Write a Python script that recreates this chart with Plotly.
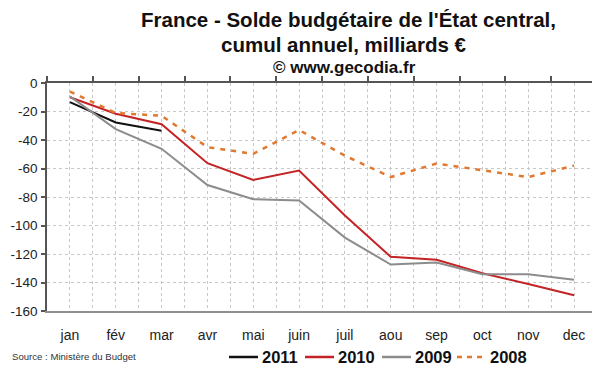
import plotly.graph_objects as go

months = ["jan", "fév", "mar", "avr", "mai", "juin", "juil", "aou", "sep", "oct", "nov", "dec"]
s2011 = [-13.4, -27.7, -33.5]
s2010 = [-10.0, -21.6, -28.9, -56.3, -68.0, -61.5, -93.0, -122.0, -124.0, -133.5, -141.0, -149.0]
s2009 = [-9.4, -32.4, -46.2, -71.6, -81.6, -82.4, -108.5, -127.4, -126.0, -134.2, -134.2, -138.0]
s2008 = [-6.0, -21.0, -23.0, -45.0, -49.7, -33.0, -51.0, -66.0, -56.5, -61.0, -66.0, -58.0]
y_ticks = [0, -20, -40, -60, -80, -100, -120, -140, -160]
y_ticktext = ["0", "-20", "-40", "-60", "-80", "-100", "-120", "-140", "-160"]
series_names = ["2011", "2010", "2009", "2008"]

x = list(range(len(months)))
FONT = "Liberation Sans, Arial, sans-serif"

colors = ["#111111", "#c42326", "#8c8c8c", "#e0782f"]
dashes = ["solid", "solid", "solid", "5px,6px"]
widths = [2, 2, 2, 2.5]
data = [s2011, s2010, s2009, s2008]

# page body has an 8px margin: convert screen pixels to figure pixels
OFF = 8
FW, FH = 600 - OFF, 372 - OFF
L, R, T, B = 47 - OFF, 597 - OFF, 83 - OFF, 311 - OFF
W, H = R - L, B - T


def px(xs):
    return (xs - OFF - L) / W


def py(ys):
    return (B - (ys - OFF)) / H


fig = go.Figure()
for name, vals, c, d, w in zip(series_names, data, colors, dashes, widths):
    fig.add_trace(go.Scatter(x=x[:len(vals)], y=vals, mode="lines", name=name,
                             line=dict(color=c, width=w, dash=d), showlegend=False))
# top axis carrier (invisible)
fig.add_trace(go.Scatter(x=[x[0], x[-1]], y=[None, None], xaxis="x2", showlegend=False,
                         hoverinfo="skip"))

grid = dict(gridcolor="#c8c8c8", griddash="dot", gridwidth=1)

shapes = [dict(type="line", xref="x domain", yref="y domain", x0=1, x1=1, y0=0, y1=1,
               line=dict(color="#909090", width=1.5))]
annotations = [
    dict(text="<b>France - Solde budgétaire de l'État central,</b>", xref="paper", yref="paper",
         x=px(348), y=py(19), xanchor="center", yanchor="middle", showarrow=False,
         font=dict(family=FONT, size=20.5, color="#111111")),
    dict(text="<b>cumul annuel, milliards €</b>", xref="paper", yref="paper",
         x=px(344), y=py(45), xanchor="center", yanchor="middle", showarrow=False,
         font=dict(family=FONT, size=20.5, color="#111111")),
    dict(text="<b>© www.gecodia.fr</b>", xref="paper", yref="paper",
         x=px(344), y=py(67), xanchor="center", yanchor="middle", showarrow=False,
         font=dict(family=FONT, size=17, color="#111111")),
    dict(text="Source : Ministère du Budget", xref="paper", yref="paper",
         x=px(10), y=py(356), xanchor="left", yanchor="middle",
         showarrow=False, font=dict(family=FONT, size=9.6, color="#333333")),
]

# manual legend (screen pixels)
leg_line_x = [229, 305, 382, 457]
leg_y = 357
for lx, name, c, d in zip(leg_line_x, series_names, colors, dashes):
    shapes.append(dict(type="line", xref="paper", yref="paper", x0=px(lx), x1=px(lx + 29),
                       y0=py(leg_y), y1=py(leg_y),
                       line=dict(color=c, width=2.5, dash="5px,5px" if d != "solid" else "solid")))
    annotations.append(dict(text="<b>" + name + "</b>", xref="paper", yref="paper",
                            x=px(lx + 31), y=py(leg_y), xanchor="left", yanchor="middle",
                            showarrow=False, font=dict(family=FONT, size=16.5, color="#111111")))

fig.update_layout(
    width=FW, height=FH,
    margin=dict(l=L, r=FW - R, t=T, b=FH - B, autoexpand=False),
    paper_bgcolor="white", plot_bgcolor="white",
    font=dict(family=FONT, color="#222222"),
    showlegend=False,
    xaxis=dict(range=[-0.5, 11.5], tickvals=x, ticktext=months, showgrid=True, **grid,
               ticks="", zeroline=False, showline=True, linecolor="#909090", linewidth=1.5,
               tickfont=dict(size=14, color="#222222"), automargin=False,
               ticklabelstandoff=10,
               minor=dict(tickvals=[i - 0.5 for i in range(13)], showgrid=True,
                          gridcolor="#c8c8c8", griddash="dot", ticks="")),
    xaxis2=dict(range=[-0.5, 11.5], overlaying="x", side="top", showgrid=False,
                tickvals=[i - 0.5 for i in range(13)], showticklabels=False,
                ticks="outside", ticklen=5, tickcolor="#555555", tickwidth=1.5,
                showline=True, linecolor="#555555", linewidth=1.5, zeroline=False,
                automargin=False),
    yaxis=dict(range=[-160, 0], tickvals=y_ticks, ticktext=y_ticktext, showgrid=True, **grid,
               ticks="outside", ticklen=4, tickcolor="#555555", tickwidth=1.5,
               showline=True, linecolor="#555555", linewidth=1.5, zeroline=False,
               tickfont=dict(size=13.5, color="#222222"), automargin=False,
               ticklabelstandoff=1),
    shapes=shapes,
    annotations=annotations,
)

fig.write_html("out.html")
